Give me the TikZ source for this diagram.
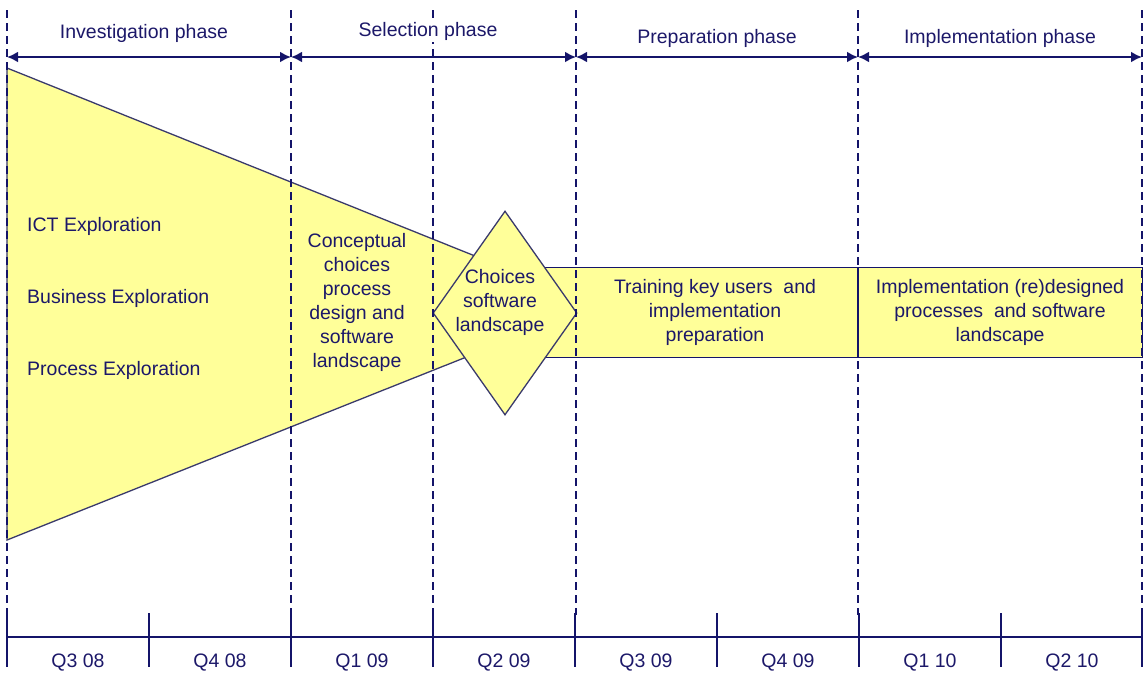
\documentclass[tikz,border=0pt]{standalone}
\usepackage{fontspec}
\setmainfont{Liberation Sans}
\usetikzlibrary{arrows.meta,shapes.geometric}
\definecolor{ink}{RGB}{28,24,105}
\definecolor{rule}{RGB}{20,20,105}
\definecolor{pale}{RGB}{255,255,153}
\definecolor{edge}{RGB}{58,58,108}

\begin{document}
\begin{tikzpicture}[x=1pt,y=-1pt,
  lbl/.style={text=ink,font=\fontsize{19.5}{24}\selectfont,inner sep=0pt},
  boxtext/.style={lbl,align=center},
  guide/.style={rule,line width=1.5pt,dash pattern=on 8pt off 5pt},
  phasearrow/.style={rule,line width=2.2pt,{Latex[length=11pt,width=11pt]}-{Latex[length=11pt,width=11pt]}},
  axisline/.style={rule,line width=1.5pt},
  band/.style={draw=rule,fill=pale,line width=1.3pt,inner sep=0pt},
]
\useasboundingbox (0,0) rectangle (1144,675);

% funnel of the exploration work
\filldraw[fill=pale,draw=edge,line width=1.3pt] (7,68) -- (597,305) -- (7,540) -- cycle;

% bands of the later phases
\node[band,minimum width=338pt,minimum height=90pt,anchor=north west] (prepbox) at (520,267) {};
\node[band,minimum width=284pt,minimum height=90pt,anchor=north west] (implbox) at (858,267) {};

% decision point
\node[diamond,draw=edge,fill=pale,line width=1.3pt,inner sep=0pt,
      minimum width=144pt,minimum height=204pt] (choice) at (505,313) {};

% phase boundaries
\foreach \n/\x in {p0/7,p1/291,p2/433,p3/576,p4/858,p5/1142}{
  \coordinate (\n top) at (\x,10);
  \coordinate (\n bot) at (\x,615);
  \coordinate (\n arr) at (\x,57);
  \draw[guide] (\n top) -- (\n bot);
}
\draw[rule,line width=1.3pt] (implbox.north west) -- (implbox.south west);

% phase arrows
\draw[phasearrow] (p0arr) -- (p1arr);
\draw[phasearrow] (p1arr) -- (p3arr);
\draw[phasearrow] (p3arr) -- (p4arr);
\draw[phasearrow] (p4arr) -- (p5arr);

\node[lbl] (ph1) at (144,33) {Investigation phase};
\node[lbl,fill=white,inner xsep=3pt,inner ysep=2pt] (ph2) at (428,31) {Selection phase};
\node[lbl] (ph3) at (717,38) {Preparation phase};
\node[lbl] (ph4) at (1000,38) {Implementation phase};

% contents
\node[lbl,anchor=west] (ict) at (27,226) {ICT Exploration};
\node[lbl,anchor=west] (bus) at (27,298) {Business Exploration};
\node[lbl,anchor=west] (proc) at (27,370) {Process Exploration};
\node[boxtext] (concept) at (357,302) {Conceptual\\choices\\process\\design and\\software\\landscape};
\node[boxtext] (choicetext) at (500,302) {Choices\\software\\landscape};
\node[boxtext] (preptext) at (715,312) {Training key users \ and\\implementation\\preparation};
\node[boxtext] (impltext) at (1000,312) {Implementation (re)designed\\processes \ and software\\landscape};

% time axis
\coordinate (axL) at (7,637);
\coordinate (axR) at (1142,637);
\draw[axisline] (axL) -- (axR);
\foreach \i/\x in {0/7,1/149,2/291,3/433,4/575,5/717,6/859,7/1001,8/1142}{
  \coordinate (tk\i a) at (\x,613);
  \coordinate (tk\i b) at (\x,667);
  \draw[axisline] (tk\i a) -- (tk\i b);
}
\foreach \q/\x in {Q3 08/78,Q4 08/220,Q1 09/362,Q2 09/504,Q3 09/646,Q4 09/788,Q1 10/930,Q2 10/1072}{
  \node[lbl] at (\x,663) {\q};
}
\end{tikzpicture}
\end{document}
